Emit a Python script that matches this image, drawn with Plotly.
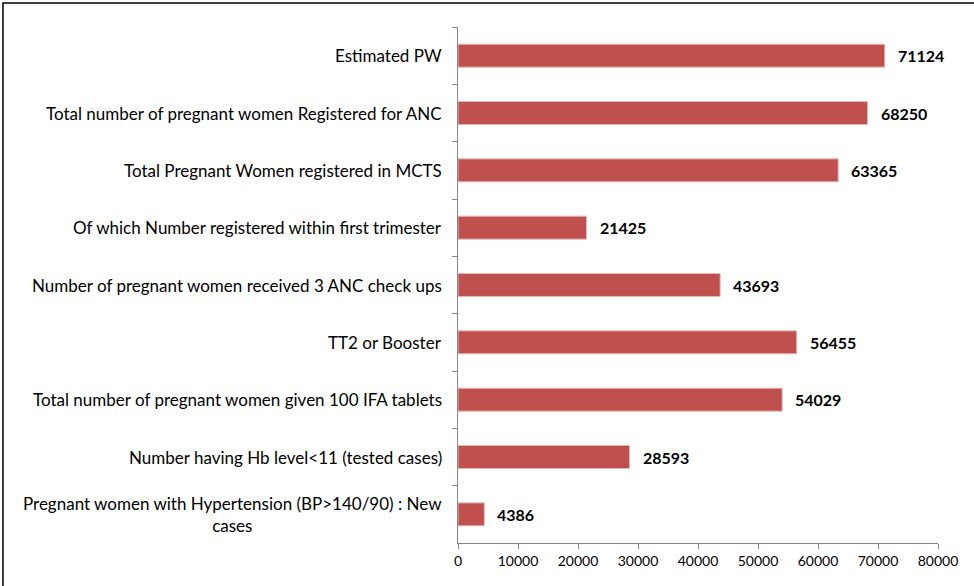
import plotly.graph_objects as go

categories = [
    "Estimated PW",
    "Total number of pregnant women Registered for ANC",
    "Total Pregnant Women registered in MCTS",
    "Of which Number registered within first trimester",
    "Number of pregnant women received 3 ANC check ups",
    "TT2 or Booster",
    "Total number of pregnant women given 100 IFA tablets",
    "Number having Hb level<11 (tested cases)",
    "Pregnant women with Hypertension (BP>140/90) : New<br>cases",
]
values = [71124, 68250, 63365, 21425, 43693, 56455, 54029, 28593, 4386]
x_ticks = [0, 10000, 20000, 30000, 40000, 50000, 60000, 70000, 80000]

BAR = "#C0504D"
AXIS = "#868686"
FONT = "Lato"

fig = go.Figure(go.Bar(
    y=categories, x=values, orientation="h",
    marker=dict(color=BAR, line=dict(color="#E6B9B8", width=1)),
    width=0.4,
    hoverinfo="x+y",
))

# category labels as annotations so the wrapped one is centred
for c in categories:
    fig.add_annotation(
        x=0, xref="x", xshift=-14, y=c, yref="y",
        text=c, showarrow=False, xanchor="right", align="center",
        font=dict(family=FONT, size=17, color="black"),
    )

# value labels, a little away from the bar ends
for c, v in zip(categories, values):
    fig.add_annotation(
        x=v, xref="x", xshift=11, y=c, yref="y",
        text="<b>%d</b>" % v, showarrow=False, xanchor="left",
        font=dict(family=FONT, size=16, color="black"),
    )

# outer chart border
fig.add_shape(type="rect", xref="paper", yref="paper",
              x0=-0.948, x1=1.2, y0=-0.2, y1=1.0465,
              line=dict(color="black", width=1.5), layer="below")

fig.update_layout(
    width=974, height=586,
    margin=dict(l=458, r=36, t=27, b=43),
    plot_bgcolor="white", paper_bgcolor="white",
    showlegend=False,
    font=dict(family=FONT, color="black"),
    xaxis=dict(
        range=[0, 80000], tickvals=x_ticks, ticktext=[str(t) for t in x_ticks],
        showgrid=False, zeroline=False,
        showline=True, linecolor=AXIS, linewidth=1,
        ticks="outside", ticklen=5, tickcolor=AXIS,
        tickfont=dict(family=FONT, size=14, color="black"),
    ),
    yaxis=dict(
        autorange="reversed", showgrid=False, zeroline=False,
        showline=True, linecolor=AXIS, linewidth=1,
        ticks="outside", ticklen=5, tickcolor=AXIS, tickson="boundaries",
        showticklabels=False,
    ),
)

fig.write_html("out.html", config={"displayModeBar": False},
               post_script="document.body.style.margin='0';")
